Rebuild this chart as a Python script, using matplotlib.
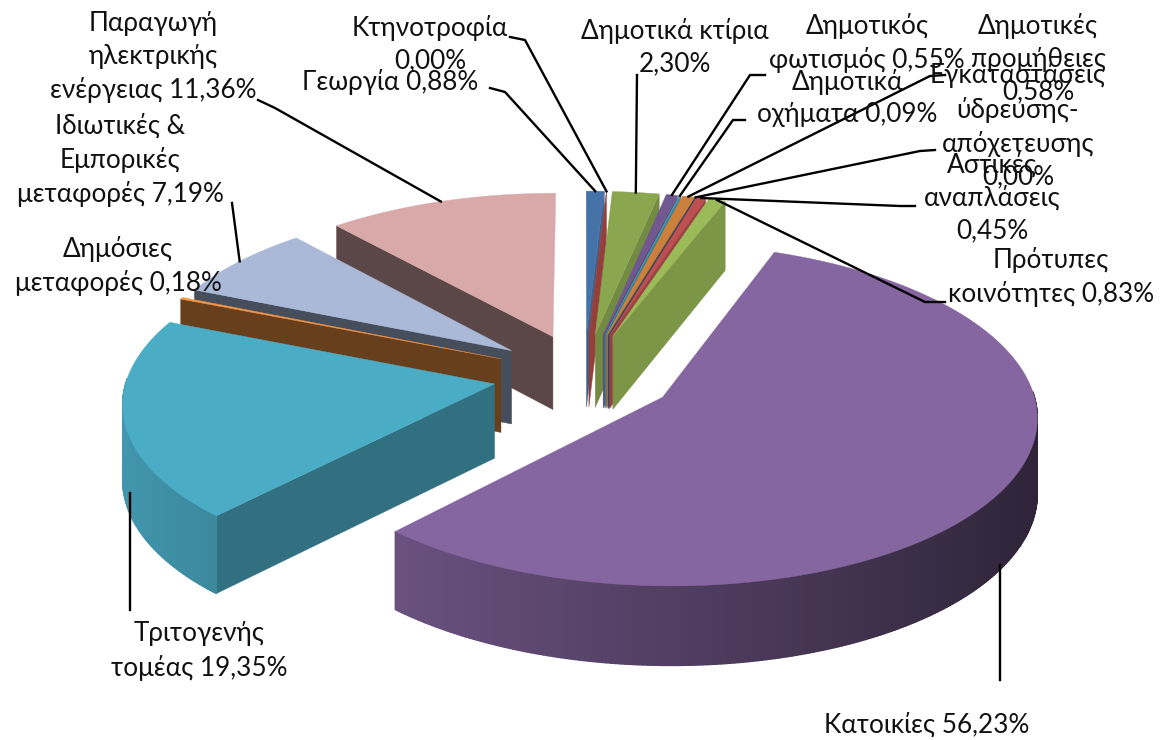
import numpy as np
import matplotlib.pyplot as plt
from matplotlib.collections import PolyCollection
from matplotlib.colors import to_rgb

plt.rcParams['font.family'] = ['Lato', 'DejaVu Sans']

# Data, clockwise from 12 o'clock
values = [0.88, 0.00, 2.30, 0.55, 0.09, 0.58, 0.00, 0.45, 0.83, 56.23, 19.35, 0.18, 7.19, 11.36]
colors = ['#4573a7', '#b04a48', '#8aa64f', '#71588f', '#4198af', '#cc803c', '#2c4d75',
          '#bf5052', '#9bbb59', '#8566a0', '#4bacc6', '#f79646', '#aab9d8', '#d9a9a9']
labels = ['Γεωργία 0,88%', 'Κτηνοτροφία\n0,00%', 'Δημοτικά κτίρια\n2,30%', 'Δημοτικός\nφωτισμός 0,55%',
          'Δημοτικά\nοχήματα 0,09%', 'Δημοτικές\nπρομήθειες\n0,58%',
          'Εγκαταστάσεις\nύδρευσης-\nαπόχετευσης\n0,00%', 'Αστικές\nαναπλάσεις\n0,45%',
          'Πρότυπες\nκοινότητες 0,83%', 'Κατοικίες 56,23%', 'Τριτογενής\nτομέας 19,35%',
          'Δημόσιες\nμεταφορές 0,18%', 'Ιδιωτικές &\nΕμπορικές\nμεταφορές 7,19%',
          'Παραγωγή\nηλεκτρικής\nενέργειας 11,36%']
label_pos = [(390, 82), (430, 44), (675, 47), (867, 43), (847, 98), (1038, 59), (1018, 126),
             (992, 198), (1051, 277), (927, 725), (199, 651), (118, 266), (120, 160), (153, 57)]

# Projection of the tilted pie
CX, CY = 584, 375
SX, SY = 367, 165
EXPLODE_X, EXPLODE_Y = 0.248, 0.272
PERSP = 0.10
DEPTH = 74


def project(u, v, down=0.0):
    w = 1 / (1 + PERSP * v)
    return CX + SX * u * w, CY - SY * v * w + down * DEPTH * w ** 0.6


def shade(color, f):
    return tuple(min(1, c * f) for c in to_rgb(color))


fig = plt.figure(figsize=(11.61, 7.40), dpi=100)
ax = fig.add_axes([0, 0, 1, 1])
ax.set_xlim(0, 1161)
ax.set_ylim(740, 0)
ax.axis('off')

ends = np.cumsum(values) / sum(values) * 2 * np.pi
starts = np.r_[0, ends[:-1]]
mids = (starts + ends) / 2
off_u = EXPLODE_X * np.sin(mids)
off_v = EXPLODE_Y * np.cos(mids) * SX / SY * 0.42


def rim(i, t):
    return off_u[i] + np.sin(t), off_v[i] + np.cos(t)


def side_face(i, t, nx):
    u, v = rim(i, t)
    a = project(off_u[i], off_v[i])
    b = project(u, v)
    c = project(u, v, 1)
    d = project(off_u[i], off_v[i], 1)
    f = 0.42 + 0.43 * max(nx, 0) ** 2
    ax.fill(*zip(a, b, c, d), color=shade(colors[i], f), lw=0.3, zorder=z)


z = 1
for i in np.argsort(-np.cos(mids), kind='stable'):
    ts = np.linspace(starts[i], ends[i], max(2, int((ends[i] - starts[i]) * 90)))
    # only the radial face turned towards us
    if np.sin(starts[i]) < 0:
        side_face(i, starts[i], -np.cos(starts[i]))
    if 0 < ends[i] < np.pi:
        side_face(i, ends[i], np.cos(ends[i]))
    # outer wall, near half only, with its left to right shading
    quads, cols = [], []
    for t0, t1 in zip(ts[:-1], ts[1:]):
        if np.cos((t0 + t1) / 2) > 0.03:
            continue
        u0, v0 = rim(i, t0)
        u1, v1 = rim(i, t1)
        quads.append([project(u0, v0), project(u1, v1), project(u1, v1, 1), project(u0, v0, 1)])
        cols.append(shade(colors[i], 0.61 - 0.27 * np.sin((t0 + t1) / 2)))
    if quads:
        ax.add_collection(PolyCollection(quads, facecolors=cols, edgecolors=cols, linewidths=1.0, zorder=z))
    # top
    pts = [project(off_u[i], off_v[i])] + [project(*rim(i, t)) for t in ts]
    ax.fill(*zip(*pts), color=colors[i], lw=0.3, zorder=z + 0.5)
    z += 1


def anchor(i):
    return project(*rim(i, mids[i]))


# leader lines: label side elbow, then the point on the slice
leaders = [(0, [(490, 88), (505, 92)]), (1, [(510, 37), (525, 40)]), (2, [(637, 75)]),
           (3, [(765, 75), (750, 75)]), (4, [(745, 120), (733, 120)]), (5, [(945, 75), (930, 76)]),
           (6, [(935, 150), (920, 151)]), (7, [(915, 206), (900, 206)]),
           (8, [(945, 302), (925, 302)]), (12, [(232, 203)]), (13, [(258, 100), (275, 108)])]
for i, elbow in leaders:
    xs, ys = zip(*(elbow + [anchor(i)]))
    ax.plot(xs, ys, color='black', lw=1.7, zorder=50)
ax.plot([1000, 1000], [680, 565], color='black', lw=1.7, zorder=50)
ax.plot([130, 130], [610, 493], color='black', lw=1.7, zorder=50)

for text, (x, y) in zip(labels, label_pos):
    ax.text(x, y, text, ha='center', va='center', fontsize=18.8, linespacing=1.39,
            color='#111111', zorder=60)

fig.savefig('out.png', dpi=100)
